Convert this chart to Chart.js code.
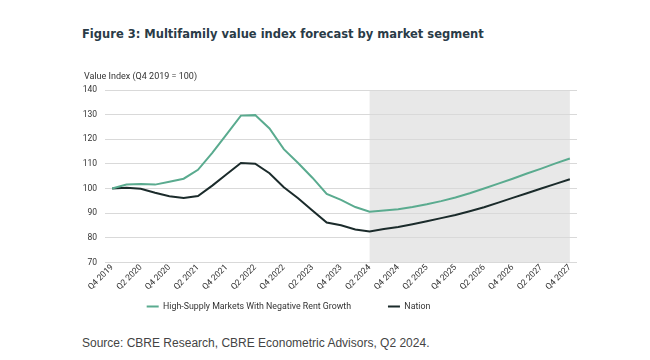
<!DOCTYPE html>
<html>
<head>
<meta charset="utf-8">
<script src="https://cdn.jsdelivr.net/npm/chart.js@4.4.1/dist/chart.umd.min.js"></script>
<style>
  body { margin: 0; background: #fff; width: 650px; height: 360px; position: relative; overflow: hidden; }
  #title { position: absolute; left: 82px; top: 27px; font: bold 11.5px "DejaVu Sans", Verdana, sans-serif; color: #2a3b47; white-space: nowrap; }
  #wrap { position: absolute; left: 0; top: 60px; width: 580px; height: 261px; }
  #source { position: absolute; left: 82px; top: 336px; font: 12px "Liberation Sans", Arial, sans-serif; color: #444; white-space: nowrap; }
</style>
</head>
<body>
<div id="title">Figure 3: Multifamily value index forecast by market segment</div>
<div id="wrap"><canvas id="chart"></canvas></div>
<div id="source">Source: CBRE Research, CBRE Econometric Advisors, Q2 2024.</div>
<script>
// quarterly labels, Q4 2019 .. Q4 2027 (only every other one is shown)
const quarters = [
  'Q4 2019', 'Q1 2020', 'Q2 2020', 'Q3 2020', 'Q4 2020', 'Q1 2021', 'Q2 2021', 'Q3 2021',
  'Q4 2021', 'Q1 2022', 'Q2 2022', 'Q3 2022', 'Q4 2022', 'Q1 2023', 'Q2 2023', 'Q3 2023',
  'Q4 2023', 'Q1 2024', 'Q2 2024', 'Q3 2024', 'Q4 2024', 'Q1 2025', 'Q2 2025', 'Q3 2025',
  'Q4 2025', 'Q1 2026', 'Q2 2026', 'Q3 2026', 'Q4 2026', 'Q1 2027', 'Q2 2027', 'Q3 2027',
  'Q4 2027'
];

const highSupply = [
  100, 101.6, 101.8, 101.6, 102.8, 104, 107.6, 114.5,
  122, 129.6, 129.8, 124.4, 116, 110.4, 104.4, 97.8,
  95.4, 92.5, 90.6, 91.1, 91.6, 92.5, 93.6, 94.9,
  96.4, 98.1, 100, 102, 104, 106.1, 108.1, 110.2,
  112.2
];

const nation = [
  100, 100.3, 99.9, 98.3, 96.9, 96.2, 97, 101.2,
  105.8, 110.4, 110.1, 106.2, 100.5, 96.1, 91.1, 86.2,
  85.1, 83.4, 82.6, 83.6, 84.4, 85.5, 86.7, 88.0,
  89.3, 90.8, 92.4, 94.3, 96.2, 98.1, 100.0, 101.9,
  103.8
];

const yTicks = [70, 80, 90, 100, 110, 120, 130, 140];

// forecast period shading
const forecastFrom = 'Q2 2024';
const forecastTo = 'Q4 2027';

const tickFont = { family: 'Roboto', size: 8.5 };

// grey band behind the forecast quarters, drawn before the grid
const forecastBand = {
  id: 'forecastBand',
  beforeDraw(chart) {
    const { ctx, chartArea, scales } = chart;
    const x0 = scales.x.getPixelForValue(quarters.indexOf(forecastFrom));
    const x1 = scales.x.getPixelForValue(quarters.indexOf(forecastTo));
    ctx.save();
    ctx.fillStyle = '#e8e8e8';
    ctx.fillRect(x0, chartArea.top, x1 - x0, chartArea.bottom - chartArea.top);
    ctx.restore();
  },
};

// horizontal axis caption above the y axis
const yCaption = {
  id: 'yCaption',
  afterDraw(chart) {
    const { ctx, chartArea } = chart;
    ctx.save();
    ctx.font = '9px Roboto';
    ctx.fillStyle = '#333';
    ctx.textBaseline = 'middle';
    ctx.fillText('Value Index (Q4 2019 = 100)', chartArea.left - 21, chartArea.top - 13);
    ctx.restore();
  },
};

const config = {
  type: 'line',
  data: {
    labels: quarters,
    datasets: [
      {
        label: 'High-Supply Markets With Negative Rent Growth',
        data: highSupply,
        borderColor: '#5aab8f',
        backgroundColor: '#5aab8f',
        borderWidth: 2,
        pointRadius: 0,
        tension: 0,
      },
      {
        label: 'Nation',
        data: nation,
        borderColor: '#1b2b2b',
        backgroundColor: '#1b2b2b',
        borderWidth: 2,
        pointRadius: 0,
        tension: 0,
      },
    ],
  },
  options: {
    responsive: true,
    maintainAspectRatio: false,
    animation: false,
    layout: { padding: { top: 30, right: 3, left: 0, bottom: 0 } },
    plugins: {
      title: { display: false },
      tooltip: { enabled: false },
      legend: {
        position: 'bottom',
        labels: {
          font: { family: 'Roboto', size: 8.8 },
          color: '#333',
          usePointStyle: true,
          pointStyle: 'line',
          pointStyleWidth: 12,
          padding: 10,
          // wider gap after the first entry, as in the original
          generateLabels: (chart) => {
            const items = Chart.defaults.plugins.legend.labels.generateLabels(chart);
            items[0].text += '\u2002'.repeat(6);
            return items;
          },
        },
      },
    },
    scales: {
      x: {
        offset: true,
        grid: { display: false, drawTicks: false },
        border: { display: false },
        ticks: {
          font: tickFont,
          color: '#333',
          autoSkip: false,
          minRotation: 45,
          maxRotation: 45,
          padding: 0,
          callback: (v, i) => (i % 2 === 0 ? quarters[i] : ''),
        },
      },
      y: {
        min: 70,
        max: 140,
        afterBuildTicks: (scale) => { scale.ticks = yTicks.map((v) => ({ value: v })); },
        grid: { color: '#d9d9d9', drawTicks: false },
        border: { display: false },
        ticks: { font: tickFont, color: '#333', padding: 8 },
        afterFit: (scale) => { scale.width = 105; },
      },
    },
  },
  plugins: [forecastBand, yCaption],
};

new Chart(document.getElementById('chart').getContext('2d'), config);
</script>
</body>
</html>
